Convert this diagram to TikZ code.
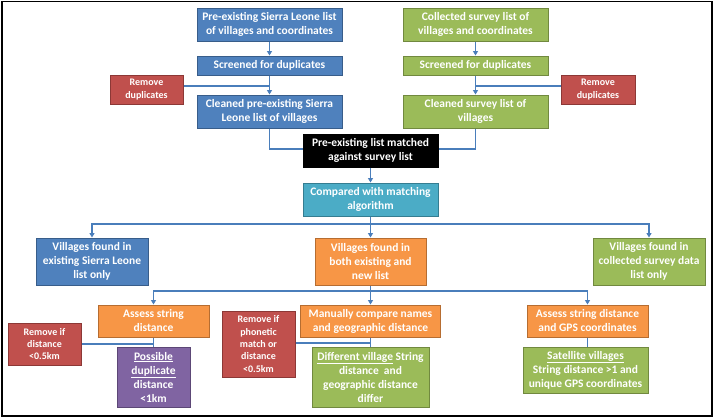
\documentclass[tikz,border=0pt]{standalone}
\usepackage{fontspec}
\setmainfont{Carlito}
\usetikzlibrary{arrows.meta}
\definecolor{bluef}{HTML}{4F81BD}\definecolor{bluee}{HTML}{385D8A}
\definecolor{greenf}{HTML}{9BBB59}\definecolor{greene}{HTML}{71893F}
\definecolor{redf}{HTML}{C0504D}\definecolor{rede}{HTML}{8C3836}
\definecolor{orangef}{HTML}{F79646}\definecolor{orangee}{HTML}{B66D31}
\definecolor{purplef}{HTML}{8064A2}\definecolor{purplee}{HTML}{5C4776}
\definecolor{cyanf}{HTML}{4BACC6}\definecolor{cyane}{HTML}{357D91}
\definecolor{linec}{HTML}{4A7EBB}
\begin{document}
\begin{tikzpicture}[x=1pt,y=-1pt,
  box/.style={draw, line width=1pt, text=white, align=center, inner sep=1pt,
    font=\bfseries\fontsize{11.5}{14}\selectfont},
  smallbox/.style={box, font=\bfseries\fontsize{10}{12.4}\selectfont},
  sz/.style 2 args={minimum width=#1pt, minimum height=#2pt},
  bluebox/.style={box, fill=bluef, draw=bluee},
  greenbox/.style={box, fill=greenf, draw=greene},
  orangebox/.style={box, fill=orangef, draw=orangee},
  purplebox/.style={box, fill=purplef, draw=purplee},
  cyanbox/.style={box, fill=cyanf, draw=cyane},
  blackbox/.style={box, fill=black, draw=black},
  redbox/.style={smallbox, fill=redf, draw=rede},
  ln/.style={draw=linec, line width=1.1pt},
  arr/.style={ln, -{Triangle[width=5pt,length=4.5pt]}}]
\useasboundingbox (0,0) rectangle (716,418);
\fill[white] (0,0) rectangle (716,418);
\draw[line width=1.2pt] (2,1.5) rectangle (712,416);

% top left column
\node[bluebox, sz={145}{33}] (preSL) at (269.5,24.5) {Pre-existing Sierra Leone list\\of villages and coordinates};
\node[bluebox, sz={145}{19}] (scrSL) at (269.5,65.5) {Screened for duplicates};
\node[redbox, sz={73}{29}] (remSL) at (146.5,89.5) {Remove\\duplicates};
\node[bluebox, sz={145}{33}] (clnSL) at (269.5,111.5) {Cleaned pre-existing Sierra\\Leone list of villages};

% top right column
\node[greenbox, sz={145}{33}] (colSV) at (475.5,24.5) {Collected survey list of\\villages and coordinates};
\node[greenbox, sz={145}{19}] (scrSV) at (475.5,65.5) {Screened for duplicates};
\node[redbox, sz={74}{29}] (remSV) at (598,89.5) {Remove\\duplicates};
\node[greenbox, sz={145}{33}] (clnSV) at (475.5,111.5) {Cleaned survey list of\\villages};

% centre
\node[blackbox, sz={135}{33}] (match) at (370.5,150.5) {Pre-existing list matched\\against survey list};
\node[cyanbox, sz={135}{33}] (algo) at (370.5,199.5) {Compared with matching\\algorithm};

% level 3
\node[bluebox, sz={112}{47}] (onlySL) at (92,261.5) {Villages found in\\existing Sierra Leone\\list only};
\node[orangebox, sz={111}{47}] (both) at (370.5,261.5) {Villages found in\\both existing and\\new list};
\node[greenbox, sz={112}{47}] (onlySV) at (649,261.5) {Villages found in\\collected survey data\\list only};

% level 4
\node[orangebox, sz={111}{32}] (assA) at (153.5,321) {Assess string\\distance};
\node[redbox, sz={73}{42}] (remA) at (44.5,344) {Remove if\\distance\\<0.5km};
\node[purplebox, sz={73}{60}] (dup) at (153.5,377) {\underline{Possible}\\\underline{duplicate}\\distance\\<1km};

\node[redbox, sz={73}{66}] (remB) at (258.5,344) {Remove if\\phonetic\\match or\\distance\\<0.5km};
\node[orangebox, sz={140}{32}] (man) at (370.5,321) {Manually compare names\\and geographic distance};
\node[greenbox, sz={117}{60}] (diff) at (370.5,377) {\underline{Different village} String\\distance~ and\\geographic distance\\differ};

\node[orangebox, sz={121}{32}] (assC) at (587.5,321) {Assess string distance\\and GPS coordinates};
\node[greenbox, sz={125}{46}] (sat) at (585.5,370) {\underline{Satellite villages}\\String distance >1 and\\unique GPS coordinates};

% connectors top
\draw[arr] (preSL) -- (scrSL);
\draw[arr] (scrSL) -- (clnSL);
\draw[ln] ([yshift=3.5pt]remSL.east) -- ([yshift=3.5pt]remSL.east -| scrSL.south);
\draw[arr] (colSV) -- (scrSV);
\draw[arr] (scrSV) -- (clnSV);
\draw[ln] ([yshift=3.5pt]remSV.west) -- ([yshift=3.5pt]remSV.west -| scrSV.south);
\draw[ln] (clnSL.south) |- ([yshift=1.5pt]match.west);
\draw[ln] (clnSV.south) |- ([yshift=1.5pt]match.east);
\draw[arr] (match) -- (algo);

% bus 1
\coordinate (b1) at (370.5,224);
\draw[ln] (algo.south) -- (b1);
\draw[arr] (b1) -| (onlySL.north);
\draw[arr] (b1) -| (onlySV.north);
\draw[arr] (b1) -- (both.north);

% bus 2
\coordinate (b2) at (370.5,291);
\draw[ln] (both.south) -- (b2);
\draw[arr] (b2) -| (assA.north);
\draw[arr] (b2) -| (assC.north);
\draw[arr] (b2) -- (man.north);

% bottom
\draw[ln] (assA.south) -- (dup.north);
\draw[ln] (remA.east) -- (remA.east -| assA.south);
\draw[ln] (man.south) -- (diff.north);
\draw[ln] ([yshift=1pt]remB.east) -- ([yshift=1pt]remB.east -| man.south);
\draw[ln] (assC.south) -- (assC.south |- sat.north);
\end{tikzpicture}
\end{document}
